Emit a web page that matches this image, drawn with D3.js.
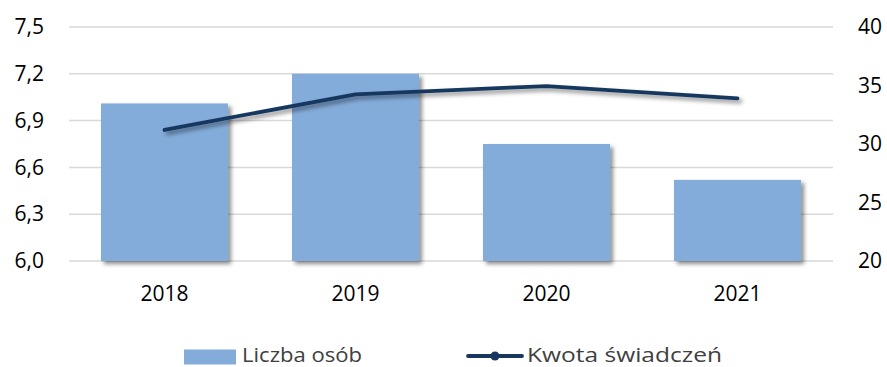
<!DOCTYPE html>
<html>
<head>
<meta charset="utf-8">
<script src="https://cdn.jsdelivr.net/npm/d3@7"></script>
<style>
  html, body { margin: 0; padding: 0; background: #fff; }
  svg { display: block; font-family: "Open Sans", sans-serif; }
</style>
</head>
<body>
<svg id="chart" width="887" height="367"></svg>
<script>
// Years on the category axis
const years = ["2018", "2019", "2020", "2021"];
// Number of persons (left axis)
const liczbaOsob = [7.01, 7.20, 6.75, 6.52];
// Benefit amount (right axis)
const kwotaSwiadczen = [31.2, 34.25, 34.95, 33.9];
// Tick values for both axes
const leftTicks = [6.0, 6.3, 6.6, 6.9, 7.2, 7.5];
const rightTicks = [20, 25, 30, 35, 40];
const seriesNames = ["Liczba osób", "Kwota świadczeń"];

const barColor = "#84acda";
const lineColor = "#17375e";

const svg = d3.select("#chart");
const margin = { left: 69, right: 54, top: 27, bottom: 106 };
const W = 887, H = 367;
const plotW = W - margin.left - margin.right;
const plotH = H - margin.top - margin.bottom;

const defs = svg.append("defs");
const shadow = defs.append("filter").attr("id", "shadow")
  .attr("x", "-20%").attr("y", "-20%").attr("width", "150%").attr("height", "150%");
shadow.append("feDropShadow").attr("dx", 3).attr("dy", 3)
  .attr("stdDeviation", 2.2).attr("flood-color", "#000").attr("flood-opacity", 0.45);

const g = svg.append("g").attr("transform", `translate(${margin.left},${margin.top})`);

const x = d3.scaleBand().domain(years).range([0, plotW]).paddingInner(0.335).paddingOuter(0.1675);
const yL = d3.scaleLinear().domain([6.0, 7.5]).range([plotH, 0]);
const yR = d3.scaleLinear().domain([20, 40]).range([plotH, 0]);

const fmt = d => d.toFixed(1).replace(".", ",");

// Gridlines
g.append("g").selectAll("line").data(leftTicks).join("line")
  .attr("x1", 0).attr("x2", plotW)
  .attr("y1", d => yL(d)).attr("y2", d => yL(d))
  .attr("stroke", "#d9d9d9").attr("stroke-width", 1.5);

// Left axis
const axL = g.append("g").call(d3.axisLeft(yL).tickValues(leftTicks).tickFormat(fmt).tickSize(0).tickPadding(25));
axL.select(".domain").remove();
axL.selectAll("text").attr("font-size", 21).attr("fill", "#000").attr("font-family", "Open Sans");

// Right axis
const axR = g.append("g").attr("transform", `translate(${plotW},0)`)
  .call(d3.axisRight(yR).tickValues(rightTicks).tickFormat(d3.format("d")).tickSize(0).tickPadding(25));
axR.select(".domain").remove();
axR.selectAll("text").attr("font-size", 21).attr("fill", "#000").attr("font-family", "Open Sans");

// Bars
g.append("g").attr("filter", "url(#shadow)").selectAll("rect").data(years).join("rect")
  .attr("x", d => x(d))
  .attr("width", x.bandwidth())
  .attr("y", (d, i) => yL(liczbaOsob[i]))
  .attr("height", (d, i) => plotH - yL(liczbaOsob[i]))
  .attr("fill", barColor);

// Bottom axis labels
const axB = g.append("g").attr("transform", `translate(0,${plotH})`)
  .call(d3.axisBottom(x).tickSize(0).tickPadding(25));
axB.select(".domain").remove();
axB.selectAll("text").attr("font-size", 21).attr("fill", "#000").attr("font-family", "Open Sans");

// Line
const line = d3.line()
  .x((d, i) => x(years[i]) + x.bandwidth() / 2)
  .y(d => yR(d));
g.append("path").datum(kwotaSwiadczen)
  .attr("d", line)
  .attr("fill", "none")
  .attr("stroke", lineColor)
  .attr("stroke-width", 3.8)
  .attr("stroke-linejoin", "round")
  .attr("stroke-linecap", "round")
  .attr("filter", "url(#shadow)");

// Legend
const leg = svg.append("g");
leg.append("rect").attr("x", 184).attr("y", 349.5).attr("width", 52).attr("height", 15).attr("fill", barColor);
leg.append("text").attr("x", 242).attr("y", 361.5)
  .attr("font-size", 20).attr("fill", "#404040")
  .attr("textLength", 120).attr("lengthAdjust", "spacingAndGlyphs")
  .text(seriesNames[0]);
leg.append("line").attr("x1", 468).attr("x2", 522).attr("y1", 356).attr("y2", 356)
  .attr("stroke", lineColor).attr("stroke-width", 3.8).attr("stroke-linecap", "round");
leg.append("circle").attr("cx", 495).attr("cy", 356).attr("r", 4.5).attr("fill", lineColor);
leg.append("text").attr("x", 527).attr("y", 361.5)
  .attr("font-size", 20).attr("fill", "#404040")
  .attr("textLength", 195).attr("lengthAdjust", "spacingAndGlyphs")
  .text(seriesNames[1]);
</script>
</body>
</html>
